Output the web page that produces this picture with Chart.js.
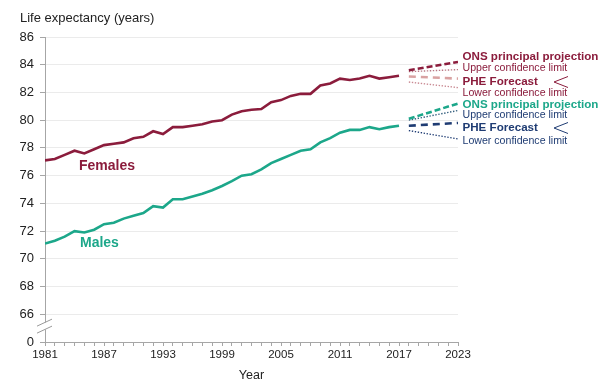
<!DOCTYPE html>
<html><head><meta charset="utf-8">
<script src="https://cdn.jsdelivr.net/npm/chart.js@4.4.1/dist/chart.umd.min.js"></script>
<style>html,body{margin:0;padding:0;background:#fff;}#wrap{width:611px;height:387px;}</style>
</head><body><div id="wrap"><canvas id="c" width="611" height="387"></canvas></div>
<script>
// ---- data ----
const years = [1981,1982,1983,1984,1985,1986,1987,1988,1989,1990,1991,1992,1993,1994,1995,1996,1997,1998,1999,
  2000,2001,2002,2003,2004,2005,2006,2007,2008,2009,2010,2011,2012,2013,2014,2015,2016,2017];
const females = [77.1,77.2,77.5,77.8,77.6,77.9,78.2,78.3,78.4,78.7,78.8,79.2,79.0,79.5,79.5,79.6,79.7,79.9,80.0,
  80.4,80.65,80.75,80.8,81.3,81.45,81.75,81.9,81.9,82.5,82.65,83.0,82.9,83.0,83.2,83.0,83.1,83.2];
const males = [71.1,71.3,71.6,72.0,71.9,72.1,72.5,72.6,72.9,73.1,73.3,73.8,73.7,74.3,74.3,74.5,74.7,74.95,75.25,
  75.6,76.0,76.1,76.45,76.9,77.2,77.5,77.8,77.9,78.4,78.7,79.1,79.3,79.3,79.5,79.35,79.5,79.6];
const forecastYears = [2018, 2023];
const femaleONS = [83.6, 84.2];
const femaleUpper = [83.5, 83.65];
const femalePHE = [83.15, 83.0];
const femaleLower = [82.75, 82.35];
const maleONS = [80.1, 81.2];
const maleUpper = [80.0, 80.7];
const malePHE = [79.6, 79.8];
const maleLower = [79.25, 78.65];
const yTicks = [64,66,68,70,72,74,76,78,80,82,84,86];
const yTickLabels = ['0','66','68','70','72','74','76','78','80','82','84','86'];
const xLabelYears = [1981,1987,1993,1999,2005,2011,2017,2023];
const yTitle = 'Life expectancy (years)';
const xTitle = 'Year';
const seriesNames = ['Females','Males'];
const rightLabels = [
  ['ONS principal projection', 'f', true],
  ['Upper confidence limit', 'f', false],
  ['PHE Forecast', 'f', true],
  ['Lower confidence limit', 'f', false],
  ['ONS principal projection', 'm', true],
  ['Upper confidence limit', 'm', false],
  ['PHE Forecast', 'm', true],
  ['Lower confidence limit', 'm', false]
];

// ---- styles ----
const FONT = "'Liberation Sans', Arial, sans-serif";
const C_F = '#8B1C3C', C_M = '#1CA78A', C_PINK = '#D9A2A2', C_NAVY = '#1F3C73';
const pts = (xs, ys) => xs.map((x, i) => ({x, y: ys[i]}));

const labelPlugin = {
  id: 'labels',
  afterDraw(chart) {
    const ctx = chart.ctx;
    const ys = chart.scales.y;
    ctx.save();
    ctx.textBaseline = 'middle';
    ctx.textAlign = 'left';
    ctx.fillStyle = '#222';
    ctx.font = '13px ' + FONT;
    ctx.fillText(yTitle, 20, 18);
    ctx.font = 'bold 14px ' + FONT;
    ctx.fillStyle = C_F;
    ctx.fillText(seriesNames[0], 79, 166);
    ctx.fillStyle = C_M;
    ctx.fillText(seriesNames[1], 80, 243);
    const ly = [57, 68.5, 81.5, 93.5, 104.5, 115.5, 127.5, 141];
    const cols = [C_F, C_F, C_F, C_F, C_M, C_NAVY, C_NAVY, C_NAVY];
    rightLabels.forEach((r, i) => {
      ctx.font = (r[2] ? 'bold 11.6px ' : '10.6px ') + FONT;
      ctx.fillStyle = cols[i];
      ctx.fillText(r[0], 462.5, ly[i]);
    });
    ctx.lineWidth = 1;
    [[C_F, 82], [C_NAVY, 128]].forEach(([c, y]) => {
      ctx.strokeStyle = c;
      ctx.beginPath();
      ctx.moveTo(568, y - 5.5); ctx.lineTo(554, y); ctx.lineTo(568, y + 5.5);
      ctx.stroke();
    });
    const yb = ys.getPixelForValue(65);
    ctx.fillStyle = '#fff';
    ctx.beginPath();
    ctx.moveTo(38, yb + 5); ctx.lineTo(52, yb - 2); ctx.lineTo(52, yb - 9); ctx.lineTo(38, yb - 2);
    ctx.closePath(); ctx.fill();
    ctx.strokeStyle = '#999';
    ctx.lineWidth = 1;
    [0, 7].forEach(d => {
      ctx.beginPath();
      ctx.moveTo(37, yb + 5 - d); ctx.lineTo(52, yb - 2 - d);
      ctx.stroke();
    });
    ctx.restore();
  }
};

const dash = (label, xs, ys, color, width, d) => ({
  label, data: pts(xs, ys), borderColor: color, borderWidth: width, borderDash: d,
  pointRadius: 0, tension: 0, fill: false
});

new Chart(document.getElementById('c'), {
  type: 'line',
  data: {
    datasets: [
      dash('Females', years, females, C_F, 2.6, []),
      dash('Males', years, males, C_M, 2.6, []),
      dash('F ONS', forecastYears, femaleONS, C_F, 2.6, [6, 3]),
      dash('F Upper', forecastYears, femaleUpper, '#B87884', 1.4, [1.4, 1.6]),
      dash('F PHE', forecastYears, femalePHE, C_PINK, 2.6, [7, 5]),
      dash('F Lower', forecastYears, femaleLower, '#C98A93', 1.4, [1.4, 1.6]),
      dash('M ONS', forecastYears, maleONS, C_M, 2.6, [6, 3]),
      dash('M Upper', forecastYears, maleUpper, '#35607F', 1.4, [1.4, 1.6]),
      dash('M PHE', forecastYears, malePHE, C_NAVY, 2.6, [7, 5]),
      dash('M Lower', forecastYears, maleLower, C_NAVY, 1.4, [1.4, 1.6])
    ]
  },
  options: {
    responsive: false, animation: false, devicePixelRatio: 1,
    layout: { padding: { left: 0, right: 153, top: 37, bottom: 0 } },
    plugins: { legend: { display: false }, tooltip: { enabled: false } },
    scales: {
      x: {
        type: 'linear', min: 1981, max: 2023,
        afterFit: s => { s.height = 45; },
        afterBuildTicks: s => { s.ticks = years.concat([2018,2019,2020,2021,2022,2023]).map(v => ({value: v})); },
        ticks: {
          autoSkip: false, maxRotation: 0, padding: 2, color: '#222',
          font: { family: FONT, size: 11.5 },
          callback: v => xLabelYears.includes(v) ? String(v) : ''
        },
        grid: { drawOnChartArea: false, drawTicks: true, tickLength: 4, color: '#a6a6a6' },
        border: { color: '#a6a6a6', width: 1 },
        title: { display: true, text: xTitle, color: '#222', font: { family: FONT, size: 12.5 }, padding: { top: 0, bottom: 4 } }
      },
      y: {
        min: 64, max: 86,
        afterFit: s => { s.width = 45; },
        afterBuildTicks: s => { s.ticks = yTicks.map(v => ({value: v})); },
        ticks: {
          padding: 6, color: '#222', font: { family: FONT, size: 13 },
          callback: (v) => yTickLabels[yTicks.indexOf(v)]
        },
        grid: {
          color: c => (c.tick && c.tick.value === 64) ? 'rgba(0,0,0,0)' : '#ebebeb',
          tickColor: '#a6a6a6', tickLength: 5, drawTicks: true
        },
        border: { color: '#a6a6a6', width: 1 }
      }
    }
  },
  plugins: [labelPlugin]
});
</script></body></html>
